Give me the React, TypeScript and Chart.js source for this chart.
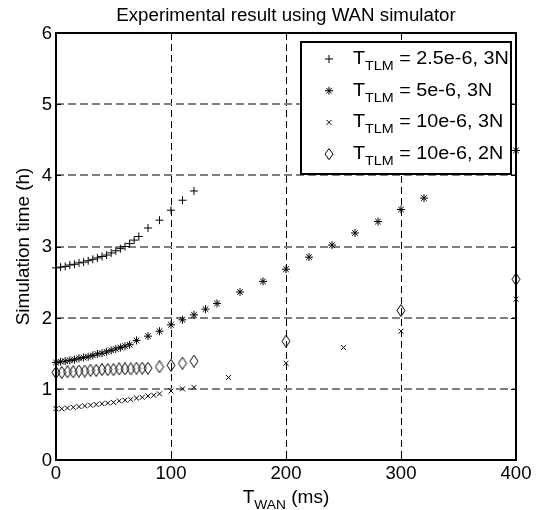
import React, { useEffect, useRef } from 'react';
import { Chart, registerables } from 'chart.js';

Chart.register(...registerables);

const TITLE = 'Experimental result using WAN simulator';
const Y_TITLE = 'Simulation time (h)';
const X_TITLE_MAIN = 'T';
const X_TITLE_SUB = 'WAN';
const X_TITLE_REST = ' (ms)';
const X_MIN = 0;
const X_MAX = 400;
const X_STEP = 100;
const Y_MIN = 0;
const Y_MAX = 6;
const Y_STEP = 1;
const X_TICKS = [0, 100, 200, 300, 400];
const Y_TICKS = [0, 1, 2, 3, 4, 5, 6];

const LEGEND_MAIN = 'T';
const LEGEND_SUB = 'TLM';
const LEGEND_LABELS = ['2.5e-6, 3N', '5e-6, 3N', '10e-6, 3N', '10e-6, 2N'];

// Series 1: T_TLM = 2.5e-6, 3N  (+)
const s1X = [0, 4, 8, 12, 16, 20, 24, 28, 32, 36, 40, 44, 48, 52, 56, 60, 64, 68, 72, 80, 90, 100, 110, 120];
const s1Y = [2.70, 2.71, 2.72, 2.74, 2.75, 2.77, 2.78, 2.80, 2.82, 2.84, 2.86, 2.88, 2.91, 2.94, 2.97, 3.00, 3.04, 3.09, 3.14, 3.26, 3.37, 3.51, 3.65, 3.78];

// Series 2: T_TLM = 5e-6, 3N  (*)
const s2X = [0, 4, 8, 12, 16, 20, 24, 28, 32, 36, 40, 44, 48, 52, 56, 60, 64, 70, 80, 90, 100, 110, 120, 130, 140, 160, 180, 200, 220, 240, 260, 280, 300, 320, 400];
const s2Y = [1.37, 1.38, 1.39, 1.40, 1.41, 1.43, 1.44, 1.45, 1.47, 1.49, 1.50, 1.52, 1.54, 1.56, 1.58, 1.60, 1.62, 1.68, 1.74, 1.81, 1.90, 1.97, 2.04, 2.12, 2.20, 2.36, 2.51, 2.68, 2.85, 3.02, 3.19, 3.35, 3.52, 3.68, 4.35];

// Series 3: T_TLM = 10e-6, 3N  (x)
const s3X = [0, 5, 10, 15, 20, 25, 30, 35, 40, 45, 50, 55, 60, 65, 70, 75, 80, 85, 90, 100, 110, 120, 150, 200, 250, 300, 400];
const s3Y = [0.72, 0.72, 0.73, 0.74, 0.75, 0.76, 0.77, 0.78, 0.79, 0.80, 0.81, 0.83, 0.84, 0.85, 0.87, 0.88, 0.90, 0.91, 0.93, 0.97, 1.00, 1.02, 1.16, 1.36, 1.58, 1.81, 2.26];

// Series 4: T_TLM = 10e-6, 2N  (diamond)
const s4X = [0, 5, 10, 15, 20, 25, 30, 35, 40, 45, 50, 55, 60, 65, 70, 75, 80, 90, 100, 110, 120, 200, 300, 400];
const s4Y = [1.23, 1.23, 1.24, 1.24, 1.25, 1.25, 1.26, 1.26, 1.27, 1.27, 1.27, 1.28, 1.28, 1.28, 1.29, 1.29, 1.29, 1.31, 1.33, 1.36, 1.39, 1.67, 2.10, 2.54];

const FONT = "'Liberation Sans', Arial, Helvetica, sans-serif";

const toPoints = (xs: number[], ys: number[]) => xs.map((x, i) => ({ x, y: ys[i] }));

function makeDiamond(): HTMLCanvasElement {
  const c = document.createElement('canvas');
  c.width = 10;
  c.height = 13;
  const g = c.getContext('2d')!;
  g.strokeStyle = '#000';
  g.lineWidth = 1;
  g.beginPath();
  g.moveTo(5, 0.5);
  g.lineTo(9, 6.5);
  g.lineTo(5, 12.5);
  g.lineTo(1, 6.5);
  g.closePath();
  g.stroke();
  return c;
}

function drawMarker(ctx: CanvasRenderingContext2D, kind: number, x: number, y: number) {
  ctx.save();
  ctx.strokeStyle = '#000';
  ctx.lineWidth = 1;
  ctx.beginPath();
  if (kind === 0) {
    ctx.moveTo(x - 4, y); ctx.lineTo(x + 4, y);
    ctx.moveTo(x, y - 4); ctx.lineTo(x, y + 4);
  } else if (kind === 1) {
    ctx.moveTo(x - 4, y); ctx.lineTo(x + 4, y);
    ctx.moveTo(x, y - 4); ctx.lineTo(x, y + 4);
    ctx.moveTo(x - 2.8, y - 2.8); ctx.lineTo(x + 2.8, y + 2.8);
    ctx.moveTo(x - 2.8, y + 2.8); ctx.lineTo(x + 2.8, y - 2.8);
  } else if (kind === 2) {
    ctx.moveTo(x - 2.5, y - 2.5); ctx.lineTo(x + 2.5, y + 2.5);
    ctx.moveTo(x - 2.5, y + 2.5); ctx.lineTo(x + 2.5, y - 2.5);
  } else {
    ctx.moveTo(x, y - 5.5); ctx.lineTo(x + 4, y);
    ctx.lineTo(x, y + 5.5); ctx.lineTo(x - 4, y);
    ctx.closePath();
  }
  ctx.stroke();
  ctx.restore();
}

// draw text horizontally stretched by factor sx, anchored by align
function stretchText(ctx: CanvasRenderingContext2D, text: string, x: number, y: number, sx: number, align: 'left' | 'center' | 'right') {
  const w = ctx.measureText(text).width * sx;
  let left = x;
  if (align === 'center') left = x - w / 2;
  else if (align === 'right') left = x - w;
  ctx.save();
  ctx.textAlign = 'left';
  ctx.translate(left, y);
  ctx.scale(sx, 1);
  ctx.fillText(text, 0, 0);
  ctx.restore();
  return w;
}

const framePlugin = {
  id: 'frame',
  beforeDatasetsDraw(chart: any) {
    const { ctx, chartArea: a, scales } = chart;
    ctx.save();
    ctx.strokeStyle = '#000';
    ctx.lineWidth = 1;
    ctx.beginPath();
    X_TICKS.forEach((v) => {
      const px = Math.round(scales.x.getPixelForValue(v)) + 0.5;
      ctx.moveTo(px, a.bottom); ctx.lineTo(px, a.bottom - 5);
      ctx.moveTo(px, a.top); ctx.lineTo(px, a.top + 5);
    });
    Y_TICKS.forEach((v) => {
      const py = Math.round(scales.y.getPixelForValue(v)) + 0.5;
      ctx.moveTo(a.left, py); ctx.lineTo(a.left + 5, py);
      ctx.moveTo(a.right, py); ctx.lineTo(a.right - 5, py);
    });
    ctx.stroke();
    ctx.lineWidth = 2;
    ctx.strokeRect(a.left, a.top, a.right - a.left, a.bottom - a.top);

    // tick labels
    ctx.fillStyle = '#000';
    ctx.font = `18px ${FONT}`;
    ctx.textBaseline = 'alphabetic';
    X_TICKS.forEach((v) => {
      stretchText(ctx, String(v), scales.x.getPixelForValue(v), a.bottom + 19, 1.03, 'center');
    });
    ctx.textBaseline = 'middle';
    Y_TICKS.forEach((v) => {
      stretchText(ctx, String(v), a.left - 4, scales.y.getPixelForValue(v) + 1, 1.03, 'right');
    });
    ctx.restore();
  },
  afterDraw(chart: any) {
    const { ctx, chartArea: a } = chart;
    ctx.save();
    ctx.fillStyle = '#000';
    ctx.textBaseline = 'alphabetic';
    // title
    ctx.font = `18px ${FONT}`;
    stretchText(ctx, TITLE, (a.left + a.right) / 2, a.top - 12, 1.04, 'center');
    // y title
    ctx.save();
    ctx.translate(24, (a.top + a.bottom) / 2);
    ctx.rotate(-Math.PI / 2);
    ctx.textBaseline = 'middle';
    stretchText(ctx, Y_TITLE, 0, 0, 1.05, 'center');
    ctx.restore();
    // x title with subscript
    const sx = 1.06;
    ctx.font = `18px ${FONT}`;
    const wT = ctx.measureText(X_TITLE_MAIN).width * sx;
    const wR = ctx.measureText(X_TITLE_REST).width * sx;
    ctx.font = `13px ${FONT}`;
    const wS = ctx.measureText(X_TITLE_SUB).width * sx;
    const total = wT + wS + wR;
    let xx = (a.left + a.right) / 2 - total / 2;
    const base = a.bottom + 43;
    ctx.font = `18px ${FONT}`;
    xx += stretchText(ctx, X_TITLE_MAIN, xx, base, sx, 'left');
    ctx.font = `13px ${FONT}`;
    xx += stretchText(ctx, X_TITLE_SUB, xx, base + 6, sx, 'left');
    ctx.font = `18px ${FONT}`;
    stretchText(ctx, X_TITLE_REST, xx, base, sx, 'left');

    // legend
    const bx = a.right - 215;
    const by = a.top + 9;
    const bw = 210;
    const bh = 132;
    ctx.fillStyle = '#fff';
    ctx.fillRect(bx, by, bw, bh);
    ctx.strokeStyle = '#000';
    ctx.lineWidth = 2;
    ctx.strokeRect(bx, by, bw, bh);
    ctx.fillStyle = '#000';
    const lsx = 1.1;
    LEGEND_LABELS.forEach((lab, i) => {
      const rb = by + 22 + i * 31.7;
      drawMarker(ctx, i, bx + 28, rb - 5);
      let tx = bx + 52;
      ctx.font = `18px ${FONT}`;
      tx += stretchText(ctx, LEGEND_MAIN, tx, rb, lsx, 'left');
      ctx.font = `13px ${FONT}`;
      tx += stretchText(ctx, LEGEND_SUB, tx, rb + 6, lsx, 'left');
      ctx.font = `18px ${FONT}`;
      stretchText(ctx, ' = ' + lab, tx, rb, lsx, 'left');
    });
    ctx.restore();
  },
};

export default function App() {
  const ref = useRef<HTMLCanvasElement | null>(null);
  useEffect(() => {
    if (!ref.current) return;
    const diamond = makeDiamond();
    const chart = new Chart(ref.current, {
      type: 'scatter',
      data: {
        datasets: [
          { label: LEGEND_LABELS[0], data: toPoints(s1X, s1Y), pointStyle: 'cross', pointRadius: 4, borderColor: '#000', backgroundColor: '#000', borderWidth: 1, clip: false } as any,
          { label: LEGEND_LABELS[1], data: toPoints(s2X, s2Y), pointStyle: 'star', pointRadius: 4, borderColor: '#000', backgroundColor: '#000', borderWidth: 1, clip: false } as any,
          { label: LEGEND_LABELS[2], data: toPoints(s3X, s3Y), pointStyle: 'crossRot', pointRadius: 3.5, borderColor: '#000', backgroundColor: '#000', borderWidth: 1, clip: false } as any,
          { label: LEGEND_LABELS[3], data: toPoints(s4X, s4Y), pointStyle: diamond, pointRadius: 5, borderColor: '#000', backgroundColor: '#fff', borderWidth: 1, clip: false } as any,
        ],
      },
      options: {
        responsive: false,
        animation: false,
        events: [],
        layout: { padding: { top: 33, right: 28, left: 0, bottom: 0 } },
        plugins: {
          legend: { display: false },
          title: { display: false },
          tooltip: { enabled: false },
        },
        scales: {
          x: {
            type: 'linear',
            min: X_MIN,
            max: X_MAX,
            ticks: { stepSize: X_STEP, display: false },
            grid: { color: '#000', lineWidth: 1, drawTicks: false },
            border: { display: false, dash: [7, 4] },
            afterFit: (s: any) => { s.height = 50; s.paddingLeft = 0; s.paddingRight = 0; },
          },
          y: {
            type: 'linear',
            min: Y_MIN,
            max: Y_MAX,
            ticks: { stepSize: Y_STEP, display: false },
            grid: { color: '#808080', lineWidth: 2, drawTicks: false },
            border: { display: false, dash: [8, 4] },
            afterFit: (s: any) => { s.width = 56; s.paddingTop = 0; s.paddingBottom = 0; },
          },
        },
      },
      plugins: [framePlugin],
    } as any);
    return () => chart.destroy();
  }, []);
  return (
    <div style={{ position: 'absolute', left: 0, top: 0, width: 544, height: 510, background: '#fff' }}>
      <canvas ref={ref} width={544} height={510} style={{ display: 'block' }} />
    </div>
  );
}
